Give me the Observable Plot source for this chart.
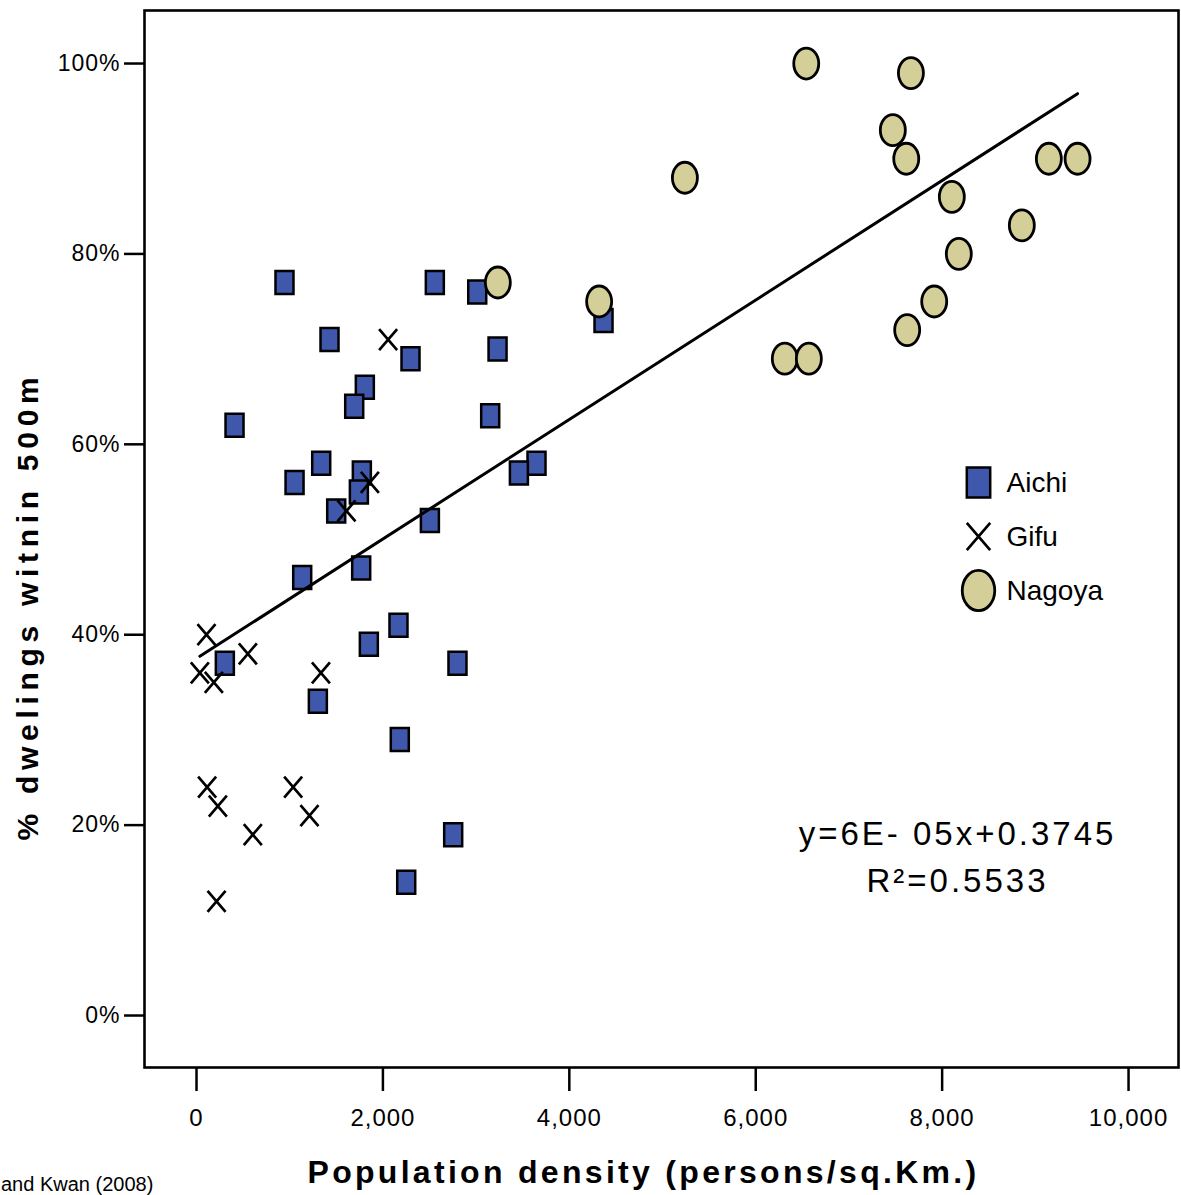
<!DOCTYPE html>
<html>
<head>
<meta charset="utf-8">
<script src="https://cdn.jsdelivr.net/npm/d3@7"></script>
<script src="https://cdn.jsdelivr.net/npm/@observablehq/plot@0.6"></script>
<style>
  html, body { margin: 0; padding: 0; background: white; }
  #chart { width: 1181px; height: 1195px; overflow: hidden; }
</style>
</head>
<body>
<div id="chart"></div>
<script>
// ---- data ----
const categories = ["Aichi", "Gifu", "Nagoya"];

const aichiX = [944, 2557, 3012, 1427, 2296, 3230, 1806, 1692, 408, 3151, 1338, 1052, 1774, 1742, 1499, 3648, 3459, 2504, 1134, 1767, 304, 2167, 1849, 2800, 1302, 2181, 2754, 2250, 4367];
const aichiY = [0.77, 0.77, 0.76, 0.71, 0.69, 0.70, 0.66, 0.64, 0.62, 0.63, 0.58, 0.56, 0.57, 0.55, 0.53, 0.58, 0.57, 0.52, 0.46, 0.47, 0.37, 0.41, 0.39, 0.37, 0.33, 0.29, 0.19, 0.14, 0.73];

const gifuX = [2056, 1860, 1609, 107, 551, 36, 186, 1335, 114, 229, 1037, 1212, 604, 215];
const gifuY = [0.71, 0.56, 0.53, 0.40, 0.38, 0.36, 0.35, 0.36, 0.24, 0.22, 0.24, 0.21, 0.19, 0.12];

const nagoyaX = [3233, 4320, 5240, 6542, 7665, 7471, 7615, 9145, 9453, 8104, 8855, 8179, 7915, 7625, 6312, 6570];
const nagoyaY = [0.77, 0.75, 0.88, 1.00, 0.99, 0.93, 0.90, 0.90, 0.90, 0.86, 0.83, 0.80, 0.75, 0.72, 0.69, 0.69];

const xTicks = [0, 2000, 4000, 6000, 8000, 10000];
const yTicks = [0, 0.2, 0.4, 0.6, 0.8, 1.0];

const xTitle = "Population density (persons/sq.Km.)";
const yTitle = "% dwelings witnin 500m";
const equationText = "y=6E- 05x+0.3745\nR²=0.5533";
const sourceText = "and Kwan (2008)";

// ---- build tables ----
const toRows = (group, xs, ys) => xs.map((x, i) => ({group, x, y: ys[i]}));
const aichi = toRows("Aichi", aichiX, aichiY);
const gifu = toRows("Gifu", gifuX, gifuY);
const nagoya = toRows("Nagoya", nagoyaX, nagoyaY);
const all = [...aichi, ...gifu, ...nagoya];

// ---- custom symbols ----
const rectSymbol = {
  draw(ctx, size) {
    const r = Math.sqrt(size / Math.PI), w = 0.9 * r, h = 1.15 * r;
    ctx.moveTo(-w, -h); ctx.lineTo(w, -h); ctx.lineTo(w, h); ctx.lineTo(-w, h); ctx.closePath();
  }
};
const ellipseSymbol = {
  draw(ctx, size) {
    const r = Math.sqrt(size / Math.PI), rx = 1.25 * r, ry = 1.55 * r, k = 0.5523;
    ctx.moveTo(rx, 0);
    ctx.bezierCurveTo(rx, k * ry, k * rx, ry, 0, ry);
    ctx.bezierCurveTo(-k * rx, ry, -rx, k * ry, -rx, 0);
    ctx.bezierCurveTo(-rx, -k * ry, -k * rx, -ry, 0, -ry);
    ctx.bezierCurveTo(k * rx, -ry, rx, -k * ry, rx, 0);
    ctx.closePath();
  }
};
const crossSymbol = {
  draw(ctx, size) {
    const r = Math.sqrt(size / Math.PI), w = 0.9 * r, h = 1.05 * r;
    ctx.moveTo(-w, -h); ctx.lineTo(w, h); ctx.moveTo(w, -h); ctx.lineTo(-w, h);
  }
};

const styles = {
  Aichi: {symbol: rectSymbol, fill: "#3F58AB", stroke: "black", strokeWidth: 2.5},
  Gifu: {symbol: crossSymbol, fill: "none", stroke: "black", strokeWidth: 2.7},
  Nagoya: {symbol: ellipseSymbol, fill: "#D4CF98", stroke: "black", strokeWidth: 2.8}
};

const W = 1181, H = 1195;
const mL = 144, mR = 3, mT = 10, mB = 128;

const legendMarks = categories.flatMap((c, i) => [
  Plot.dot([c], {frameAnchor: "top-left", dx: 834, dy: 472 + i * 54, r: 13, ...styles[c]}),
  Plot.text([c], {frameAnchor: "top-left", dx: 862, dy: 473 + i * 54, text: d => d, textAnchor: "start", fontSize: 28, lineAnchor: "middle", fill: "black"})
]);

const plot = Plot.plot({
  width: W,
  height: H,
  marginLeft: mL,
  marginRight: mR,
  marginTop: mT,
  marginBottom: mB,
  style: {fontFamily: "'Liberation Sans', Arial, sans-serif", color: "black", background: "white"},
  x: {domain: [-558, 10536], ticks: xTicks, tickFormat: d3.format(",")},
  y: {domain: [-0.0546, 1.0557], ticks: yTicks, tickFormat: d3.format(".0%")},
  marks: [
    Plot.axisX({ticks: xTicks, tickFormat: d3.format(","), tickSize: 24, tickPadding: 17, fontSize: 24, strokeWidth: 2.5, label: null}),
    Plot.axisY({ticks: yTicks, tickFormat: d3.format(".0%"), tickSize: 20, tickPadding: 4, fontSize: 23, strokeWidth: 2.5, label: null}),
    Plot.dot(aichi, {x: "x", y: "y", r: 10, ...styles.Aichi}),
    Plot.dot(gifu, {x: "x", y: "y", r: 10, ...styles.Gifu}),
    Plot.dot(nagoya, {x: "x", y: "y", r: 10, ...styles.Nagoya}),
    Plot.linearRegressionY(all, {x: "x", y: "y", ci: 0, stroke: "black", strokeWidth: 3}),
    Plot.frame({stroke: "black", strokeWidth: 2.6}),
    ...legendMarks,
    Plot.text([equationText], {frameAnchor: "top-left", dx: 813, dy: 843, text: d => d, fontSize: 33, lineHeight: 1.42, lineAnchor: "middle", textAnchor: "middle", fill: "black"}),
    Plot.text([xTitle], {frameAnchor: "bottom", dx: -18, dy: 105, text: d => d, fontSize: 32, fontWeight: "bold", lineAnchor: "middle", textAnchor: "middle", fill: "black"}),
    Plot.text([yTitle], {frameAnchor: "left", dx: -116, dy: 67, rotate: -90, text: d => d, fontSize: 30, fontWeight: "bold", lineAnchor: "middle", textAnchor: "middle", fill: "black"})
  ]
});

// letter spacing to match the stretched look of the reference typography
const svg = d3.select(plot);
svg.selectAll("text").each(function() {
  const t = this.textContent;
  const sel = d3.select(this);
  if (t === xTitle) sel.attr("letter-spacing", 3.3);
  else if (t === yTitle) sel.attr("letter-spacing", 5.7);
  else if (t.startsWith("y=6E") || t.startsWith("R²")) sel.attr("letter-spacing", 3);
});
svg.selectAll("g[aria-label='x-axis tick label'] text, g[aria-label='y-axis tick label'] text").attr("letter-spacing", 1);

// source line at the bottom-left edge, as in the reference
svg.append("text")
  .attr("x", 1).attr("y", 1191)
  .attr("text-anchor", "start")
  .attr("font-size", 20)
  .attr("fill", "black")
  .text(sourceText);

document.getElementById("chart").append(plot);
</script>
</body>
</html>
